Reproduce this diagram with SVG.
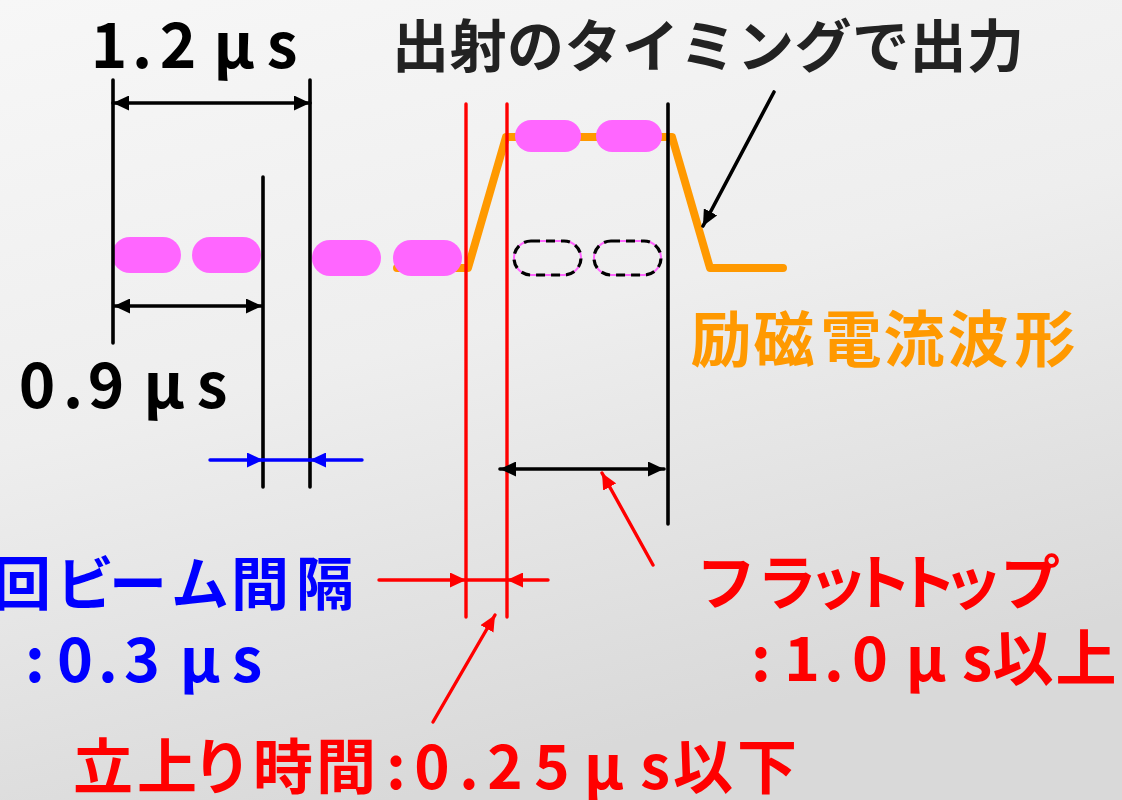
<svg xmlns="http://www.w3.org/2000/svg" width="1122" height="800" viewBox="0 0 1122 800">
<defs>
<linearGradient id="bg" x1="0" y1="0" x2="0.35" y2="1">
<stop offset="0" stop-color="#f7f7f7"/>
<stop offset="0.5" stop-color="#eeeeee"/>
<stop offset="1" stop-color="#d9d9d9"/>
</linearGradient>
<marker id="ah-k" markerUnits="userSpaceOnUse" markerWidth="17" markerHeight="15" refX="16" refY="7.5" orient="auto-start-reverse" viewBox="0 0 17 15"><path d="M0,0 L16,7.5 L0,15 z" fill="#000"/></marker>
<marker id="ah-b" markerUnits="userSpaceOnUse" markerWidth="17" markerHeight="15" refX="16" refY="7.5" orient="auto-start-reverse" viewBox="0 0 17 15"><path d="M0,0 L16,7.5 L0,15 z" fill="#0000ff"/></marker>
<marker id="ah-r" markerUnits="userSpaceOnUse" markerWidth="17" markerHeight="15" refX="16" refY="7.5" orient="auto-start-reverse" viewBox="0 0 17 15"><path d="M0,0 L16,7.5 L0,15 z" fill="#ff0000"/></marker>
</defs>
<style>
text{font-family:"Noto Sans CJK JP","Noto Sans",sans-serif;font-weight:700}
.c{text-anchor:middle}
.k{stroke:#000;stroke-width:3.6;fill:none;stroke-linecap:round}
.r{stroke:#ff0000;stroke-width:3.4;fill:none;stroke-linecap:round}
.b{stroke:#0000ff;stroke-width:3.4;fill:none;stroke-linecap:round}
.pill{fill:#ff66ff}
.ghost{fill:none;stroke:#ff66ff;stroke-width:2}
.ghostd{fill:none;stroke:#000;stroke-width:3.2;stroke-dasharray:9 6}
.wave{fill:none;stroke:#ff9900;stroke-width:8;stroke-linecap:round;stroke-linejoin:round}
</style>
<rect width="1122" height="800" fill="url(#bg)"/>

<g id="waveform">
<polyline class="wave" points="397,268 468,268 506,137 672,137 710,268 783,268"/>
</g>

<g id="pulses">
<rect class="pill" x="112" y="237" width="69" height="36" rx="18"/>
<rect class="pill" x="192" y="237" width="69" height="36" rx="18"/>
<rect class="pill" x="312" y="240" width="69" height="36" rx="18"/>
<rect class="pill" x="393" y="240" width="69" height="36" rx="18"/>
<rect class="pill" x="515" y="120" width="66" height="32" rx="16"/>
<rect class="pill" x="596" y="120" width="66" height="32" rx="16"/>
<rect class="ghost" x="514" y="241" width="67" height="34" rx="17"/>
<rect class="ghostd" x="514" y="241" width="67" height="34" rx="17"/>
<rect class="ghost" x="594" y="241" width="67" height="34" rx="17"/>
<rect class="ghostd" x="594" y="241" width="67" height="34" rx="17"/>
</g>

<g id="guides">
<line class="k" x1="113" y1="80" x2="113" y2="343"/>
<line class="k" x1="310" y1="80" x2="310" y2="487"/>
<line class="k" x1="263" y1="177" x2="263" y2="487"/>
<line class="k" x1="668" y1="104" x2="668" y2="524"/>
<line class="r" x1="466" y1="104" x2="466" y2="617"/>
<line class="r" x1="507" y1="104" x2="507" y2="617"/>
</g>

<g id="connectors">
<line class="k" x1="113" y1="103" x2="310" y2="103" stroke-linecap="butt" marker-start="url(#ah-k)" marker-end="url(#ah-k)"/>
<line class="k" x1="114" y1="306" x2="262" y2="306" stroke-linecap="butt" marker-start="url(#ah-k)" marker-end="url(#ah-k)"/>
<line class="k" x1="500" y1="469" x2="664" y2="469" stroke-linecap="butt" marker-start="url(#ah-k)" marker-end="url(#ah-k)"/>
<line class="b" x1="210" y1="460" x2="263" y2="460" marker-end="url(#ah-b)"/>
<line class="b" x1="263" y1="460" x2="310" y2="460"/>
<line class="b" x1="362" y1="460" x2="310" y2="460" marker-end="url(#ah-b)"/>
<line class="r" x1="379" y1="580" x2="466" y2="580" marker-end="url(#ah-r)"/>
<line class="r" x1="466" y1="580" x2="507" y2="580"/>
<line class="r" x1="548" y1="580" x2="507" y2="580" marker-end="url(#ah-r)"/>
<line class="r" x1="653" y1="565" x2="602" y2="473" marker-end="url(#ah-r)"/>
<line class="r" x1="433" y1="722" x2="495" y2="615" marker-end="url(#ah-r)"/>
<line class="k" x1="774" y1="92" x2="703" y2="226" marker-end="url(#ah-k)"/>
</g>

<g id="labels">
<text class="c" x="109 142 178 234 282" y="68" font-size="62" fill="#000">1.2μs</text>
<text x="392" y="67" font-size="57" fill="#222" textLength="632" lengthAdjust="spacing">出射のタイミングで出力</text>
<text class="c" x="37 73 106 164 212" y="408" font-size="62" fill="#000">0.9μs</text>
<text class="c" x="721 784 851 914 978 1045" y="362" font-size="61" fill="#ff9900">励磁電流波形</text>
<text class="c" x="22 85 138 200 260 325" y="605" font-size="58" fill="#0000ff">回ビーム間隔</text>
<text class="c" x="35 75 108 142 200 247" y="682" font-size="61" fill="#0000ff">:0.3μs</text>
<text class="c" x="726 787 838 882 927 973 1030" y="605" font-size="60" fill="#ff0000">フラットトップ</text>
<text class="c" x="761 802 834 870 926 977 1023 1086" y="681" font-size="61" fill="#ff0000">:1.0μs以上</text>
<text class="c" x="103 167 222 283 346 396 432 469 505 552 604 655 703 767" y="789" font-size="60" fill="#ff0000">立上り時間:0.25μs以下</text>
</g>
</svg>
